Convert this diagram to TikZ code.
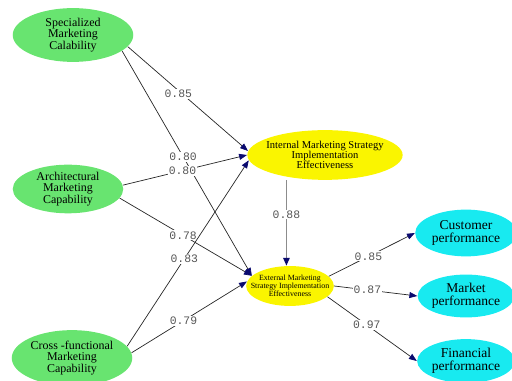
\documentclass[tikz,border=0pt]{standalone}
\usepackage{fontspec}
\setmainfont{Liberation Serif}
\newfontfamily\coefmono{Liberation Mono}
\usetikzlibrary{shapes.geometric,arrows.meta}
\definecolor{nodegreen}{RGB}{104,228,112}
\definecolor{nodeyellow}{RGB}{250,245,0}
\definecolor{nodecyan}{RGB}{24,234,240}
\definecolor{tipnavy}{RGB}{10,10,110}
\definecolor{lblgray}{RGB}{85,85,85}
\begin{document}
\begin{tikzpicture}[x=0.02cm,y=-0.02cm,
  blob/.style={ellipse, inner sep=0pt, align=center, text=black},
  gblob/.style={blob, fill=nodegreen, font=\fontsize{6.8}{6.7}\selectfont},
  yblob/.style={blob, fill=nodeyellow},
  cblob/.style={blob, fill=nodecyan, font=\fontsize{7.7}{7.3}\selectfont},
  conn/.style={draw=black!85, line width=0.4pt,
    -{Triangle[length=4.5pt,width=3.4pt,color=tipnavy]}},
  conngray/.style={draw=black!45, line width=1pt,
    -{Triangle[length=4.5pt,width=3.6pt,color=tipnavy]}},
  coef/.style={fill=white, inner sep=0.6pt, text=lblgray,
    font=\coefmono\fontsize{6.5}{6.5}\selectfont}
]
\useasboundingbox (0,0) rectangle (512,381);

\node[gblob, minimum width=68.6pt, minimum height=30.6pt] (spec) at (73,35)
  {Specialized\\Marketing\\Calability};
\node[gblob, minimum width=62.9pt, minimum height=27.2pt] (arch) at (68,189)
  {Architectural\\Marketing\\Capability};
\node[gblob, minimum width=68.6pt, minimum height=31.7pt] (cross) at (72,358)
  {Cross -functional\\Marketing\\Capability};
\node[yblob, inner xsep=-8pt, minimum width=88.4pt, minimum height=28.3pt,
  font=\fontsize{6}{5.8}\selectfont] (int) at (325,155)
  {Internal Marketing Strategy\\Implementation\\Effectiveness};
\node[yblob, inner xsep=-9pt, minimum width=49.9pt, minimum height=22.7pt,
  font=\fontsize{4.5}{4.4}\selectfont] (ext) at (290,286)
  {External Marketing\\Strategy Implementation\\Effectiveness};
\node[cblob, minimum width=57.8pt, minimum height=26.6pt] (cust) at (466,233)
  {Customer\\performance};
\node[cblob, minimum width=54.4pt, minimum height=24.4pt] (mkt) at (466,296)
  {Market\\performance};
\node[cblob, minimum width=55.6pt, minimum height=24.9pt] (fin) at (466,361)
  {Financial\\performance};

\draw[conn] (spec.-12) -- node[coef,pos=0.42,yshift=-2pt]{0.85} (int.177);
\draw[conn] (spec.-18) -- node[coef,pos=0.47]{0.80} (ext.165);
\draw[conn] (arch.4) -- node[coef,pos=0.48]{0.80} (int.180);
\draw[conn] (arch.-10) -- node[coef,pos=0.48]{0.78} (ext.165);
\draw[conn] (cross.12) -- node[coef,pos=0.47]{0.83} (int.184);
\draw[conn] (cross.5) -- node[coef,pos=0.45]{0.79} (ext.174);
\draw[conngray] (int.south -| ext.100) -- node[coef,pos=0.4]{0.88} (ext.100);
\draw[conn] (ext.14) -- node[coef,pos=0.46]{0.85} (cust.west);
\draw[conn] (ext.east) -- node[coef,pos=0.4]{0.87} (mkt.west);
\draw[conn] (ext.-16) -- node[coef,pos=0.44]{0.97} (fin.180);
\end{tikzpicture}
\end{document}
